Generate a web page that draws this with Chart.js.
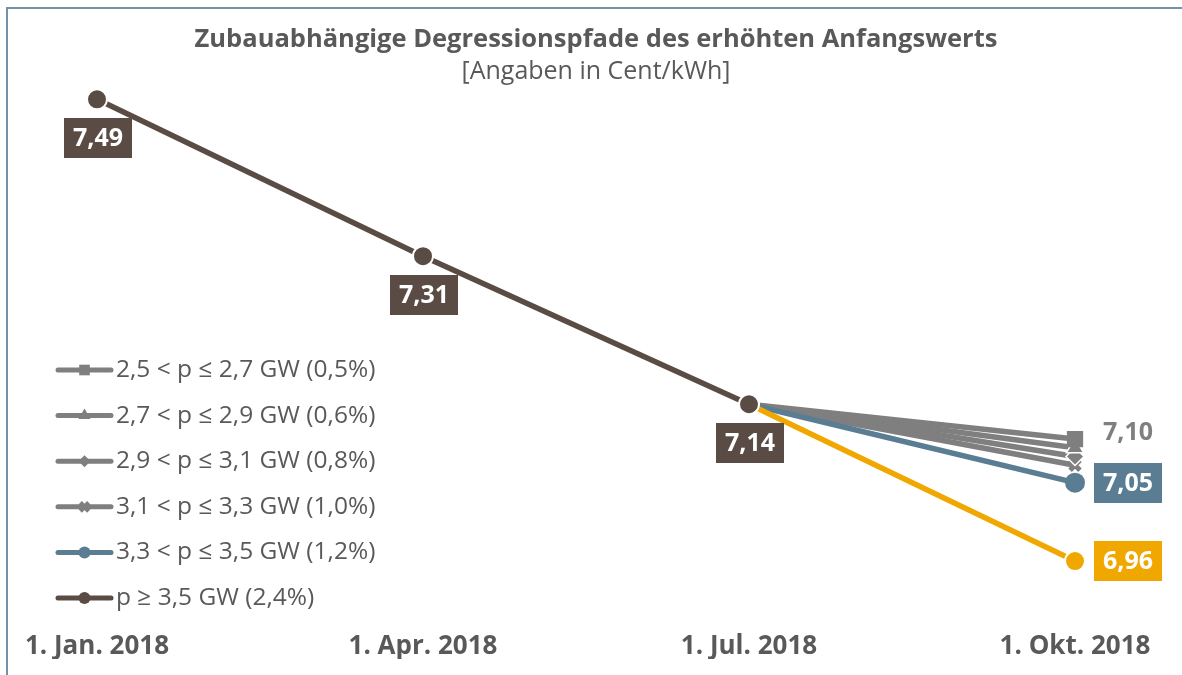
<!DOCTYPE html>
<html lang="de">
<head>
<meta charset="utf-8">
<title>Degressionspfade</title>
<script src="https://cdn.jsdelivr.net/npm/chart.js@4.4.1/dist/chart.umd.min.js"></script>
<style>
  html, body { margin: 0; padding: 0; background: #ffffff; }
  #wrap { position: relative; width: 1182px; height: 675px; }
</style>
</head>
<body>
<div id="wrap"><canvas id="chart" width="1182" height="675"></canvas></div>
<script>
// Stichtage (x-Achse)
const stichtage = ['1. Jan. 2018', '1. Apr. 2018', '1. Jul. 2018', '1. Okt. 2018'];

// Bezeichnungen der Zubaukorridore
const pfadNamen = [
  '2,5 < p \u2264 2,7 GW (0,5%)',
  '2,7 < p \u2264 2,9 GW (0,6%)',
  '2,9 < p \u2264 3,1 GW (0,8%)',
  '3,1 < p \u2264 3,3 GW (1,0%)',
  '3,3 < p \u2264 3,5 GW (1,2%)',
  'p \u2265 3,5 GW (2,4%)'
];

// Anfangswerte in Cent/kWh je Pfad
const pfad05 = [null, null, 7.14, 7.10];
const pfad06 = [null, null, 7.14, 7.09];
const pfad08 = [null, null, 7.14, 7.08];
const pfad10 = [null, null, 7.14, 7.07];
const pfad12 = [null, null, 7.14, 7.05];
const pfad24 = [7.49, 7.31, 7.14, 6.96];

const BRAUN = '#5a4c45';
const GRAU = '#7f7f7f';
const BLAU = '#5a7d93';
const GELB = '#f0a800';
const TEXT = '#595959';
const FONT = "'Open Sans', 'Noto Sans', sans-serif";

function zahl(v) { return v.toFixed(2).replace('.', ','); }

// Rahmen und Hintergrund
const rahmen = {
  id: 'rahmen',
  beforeDraw(chart) {
    const ctx = chart.ctx;
    ctx.save();
    ctx.fillStyle = '#ffffff';
    ctx.fillRect(0, 0, chart.width, chart.height);
    ctx.strokeStyle = '#7292a9';
    ctx.lineWidth = 2;
    ctx.beginPath();
    ctx.moveTo(7, chart.height);
    ctx.lineTo(7, 8);
    ctx.lineTo(chart.width, 8);
    ctx.stroke();
    ctx.restore();
  }
};

// Überschrift und Einheit
const kopf = {
  id: 'kopf',
  afterDraw(chart, args, opts) {
    const ctx = chart.ctx;
    ctx.save();
    ctx.textAlign = 'center';
    ctx.textBaseline = 'middle';
    ctx.fillStyle = TEXT;
    ctx.font = `bold ${opts.titleSize}px ${FONT}`;
    ctx.fillText(opts.title, opts.x, opts.titleY);
    ctx.font = `${opts.subSize}px ${FONT}`;
    ctx.fillText(opts.subtitle, opts.x, opts.subY);
    ctx.restore();
  }
};

// Legende mit Linie und Markierung
const legende = {
  id: 'legende',
  afterDraw(chart, args, opts) {
    const ctx = chart.ctx;
    ctx.save();
    chart.data.datasets.forEach((ds, i) => {
      const y = opts.top + i * opts.step;
      const farbe = ds.legendColor;
      ctx.strokeStyle = farbe;
      ctx.lineWidth = 5;
      ctx.lineCap = 'round';
      ctx.beginPath();
      ctx.moveTo(opts.left, y);
      ctx.lineTo(opts.left + opts.lineLen, y);
      ctx.stroke();
      ctx.fillStyle = farbe;
      ctx.strokeStyle = farbe;
      ctx.lineWidth = ds.legendMarker.borderWidth || 0;
      ctx.lineCap = 'butt';
      Chart.helpers.drawPoint(ctx, {
        pointStyle: ds.legendMarker.style,
        radius: ds.legendMarker.radius,
        rotation: 0,
        borderWidth: ds.legendMarker.borderWidth || 0
      }, opts.left + opts.lineLen / 2, y);
      ctx.fillStyle = TEXT;
      ctx.font = `${opts.size}px ${FONT}`;
      ctx.textAlign = 'left';
      ctx.textBaseline = 'middle';
      ctx.fillText(ds.label, opts.left + opts.lineLen + opts.gap, y);
    });
    ctx.restore();
  }
};

// Wertbeschriftungen an ausgewählten Punkten
const werte = {
  id: 'werte',
  afterDatasetsDraw(chart, args, opts) {
    const ctx = chart.ctx;
    ctx.save();
    ctx.font = `bold ${opts.size}px ${FONT}`;
    ctx.textAlign = 'center';
    ctx.textBaseline = 'middle';
    opts.items.forEach(it => {
      const pt = chart.getDatasetMeta(it.ds).data[it.idx];
      const v = chart.data.datasets[it.ds].data[it.idx];
      const txt = zahl(v);
      let cx, cy;
      if (it.pos === 'below') {
        cx = pt.x + 1;
        cy = pt.y + opts.gap + opts.h / 2;
      } else if (it.pos === 'right') {
        cx = pt.x + opts.gap + opts.w / 2;
        cy = pt.y;
      } else {
        cx = pt.x + opts.gap + opts.w / 2;
        cy = pt.y - 7;
      }
      if (it.box) {
        ctx.fillStyle = it.box;
        ctx.fillRect(Math.round(cx - opts.w / 2), Math.round(cy - opts.h / 2), opts.w, opts.h);
        ctx.fillStyle = '#ffffff';
      } else {
        ctx.fillStyle = it.color;
      }
      ctx.fillText(txt, cx, cy + 1);
    });
    ctx.restore();
  }
};

const LEGEND_MARKER = {
  rect: { radius: 7.5, borderWidth: 0 },
  triangle: { radius: 7, borderWidth: 0 },
  rectRot: { radius: 6, borderWidth: 0 },
  crossRot: { radius: 6, borderWidth: 4.5 }
};

function grauPfad(i, werte, style, radius, bw, order) {
  return {
    label: pfadNamen[i],
    data: werte,
    borderColor: GRAU,
    backgroundColor: GRAU,
    borderWidth: 5.5,
    pointStyle: style,
    pointRadius: [0, 0, 0, radius],
    pointBorderWidth: bw,
    pointBorderColor: style === 'crossRot' ? GRAU : '#ffffff',
    pointBackgroundColor: GRAU,
    legendColor: GRAU,
    legendMarker: Object.assign({ style: style }, LEGEND_MARKER[style]),
    order: order,
    clip: false
  };
}

const datasets = [
  grauPfad(0, pfad05, 'rect', 11.5, 0, 2),
  grauPfad(1, pfad06, 'triangle', 10, 1.5, 3),
  grauPfad(2, pfad08, 'rectRot', 9, 1.5, 4),
  grauPfad(3, pfad10, 'crossRot', 7, 5, 5),
  {
    label: pfadNamen[4],
    data: pfad12,
    borderColor: BLAU,
    backgroundColor: BLAU,
    borderWidth: 5.5,
    pointStyle: 'circle',
    pointRadius: [0, 0, 0, 10],
    pointBorderWidth: 0,
    pointBackgroundColor: BLAU,
    legendColor: BLAU,
    legendMarker: { style: 'circle', radius: 6 },
    order: 1,
    clip: false
  },
  {
    label: pfadNamen[5],
    data: pfad24,
    borderColor: BRAUN,
    backgroundColor: BRAUN,
    borderWidth: 5.5,
    segment: {
      borderColor: c => (c.p1DataIndex === 3 ? GELB : BRAUN)
    },
    pointStyle: 'circle',
    pointRadius: 10,
    pointBorderWidth: 2,
    pointBorderColor: '#ffffff',
    pointBackgroundColor: [BRAUN, BRAUN, BRAUN, GELB],
    legendColor: BRAUN,
    legendMarker: { style: 'circle', radius: 6 },
    order: 0,
    clip: false
  }
];

new Chart(document.getElementById('chart'), {
  type: 'line',
  data: { labels: stichtage, datasets: datasets },
  plugins: [rahmen, kopf, legende, werte],
  options: {
    responsive: false,
    devicePixelRatio: 1,
    animation: false,
    layout: { padding: { left: 97, right: 107, top: 88, bottom: 16 } },
    scales: {
      x: {
        type: 'category',
        offset: false,
        grid: { display: false, drawTicks: false },
        border: { display: false },
        ticks: {
          color: TEXT,
          font: { family: FONT, size: 26, weight: 'bold', lineHeight: 1.2 },
          padding: 22,
          maxRotation: 0,
          autoSkip: false
        },
        afterFit(scale) { scale.height = 50; }
      },
      y: {
        display: false,
        min: 6.905,
        max: 7.503
      }
    },
    plugins: {
      legend: { display: false },
      tooltip: { enabled: false },
      kopf: {
        title: 'Zubauabh\u00e4ngige Degressionspfade des erh\u00f6hten Anfangswerts',
        subtitle: '[Angaben in Cent/kWh]',
        x: 596, titleY: 40, subY: 72, titleSize: 25.5, subSize: 25
      },
      legende: { left: 58, top: 370, step: 45.6, lineLen: 53, gap: 5, size: 24.5 },
      werte: {
        size: 25, w: 68, h: 40, gap: 19,
        items: [
          { ds: 5, idx: 0, pos: 'below', box: BRAUN },
          { ds: 5, idx: 1, pos: 'below', box: BRAUN },
          { ds: 5, idx: 2, pos: 'below', box: BRAUN },
          { ds: 5, idx: 3, pos: 'right', box: GELB },
          { ds: 4, idx: 3, pos: 'right', box: BLAU },
          { ds: 0, idx: 3, pos: 'plain', color: GRAU }
        ]
      }
    }
  }
});
</script>
</body>
</html>
